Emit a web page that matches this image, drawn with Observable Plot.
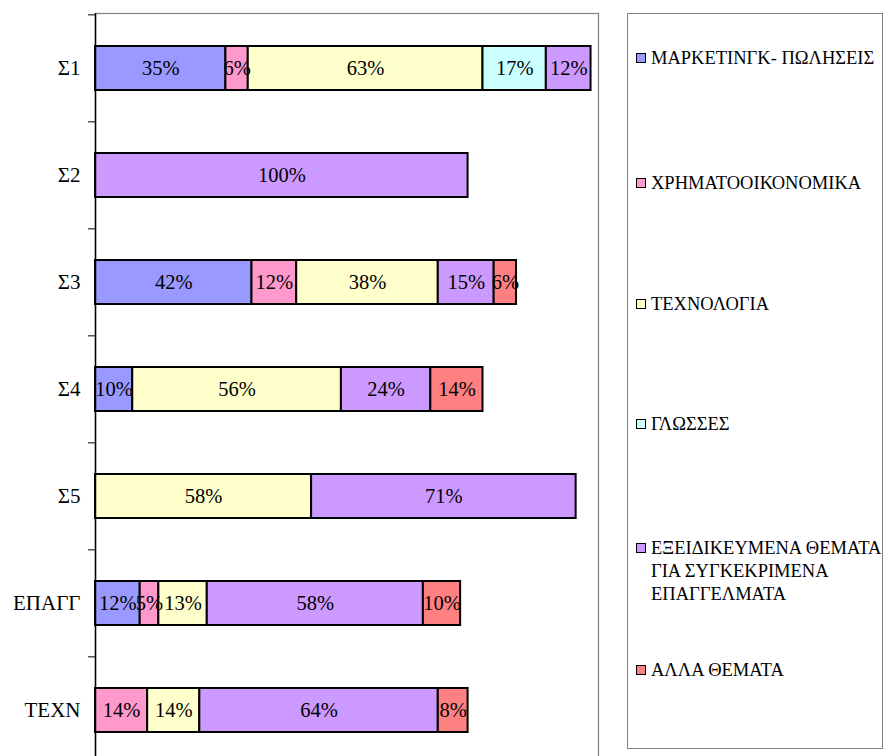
<!DOCTYPE html>
<html>
<head>
<meta charset="utf-8">
<script src="https://cdn.jsdelivr.net/npm/d3@7"></script>
<script src="https://cdn.jsdelivr.net/npm/@observablehq/plot@0.6"></script>
<style>
  html, body { margin: 0; padding: 0; background: #fff; overflow: hidden; font-family: 'Liberation Serif', serif; }
  #wrap { position: relative; width: 885px; height: 756px; font-family: 'Liberation Serif', serif; }
  #chart { position: absolute; left: 0; top: 0; }
  #chart svg, #chart svg text { font-family: 'Liberation Serif', serif !important; }
  #legend { position: absolute; left: 627px; top: 13px; width: 254px; height: 734px; border: 1px solid #808080; box-sizing: content-box; }
  .item { position: absolute; left: 8px; font-family: 'Liberation Serif', serif; font-size: 18.5px; line-height: 23px; color: #000; }
  .sw { position: absolute; left: 0; top: 6px; width: 8px; height: 8px; border: 1.5px solid #000; }
  .lab { margin-left: 15px; white-space: pre; }
</style>
</head>
<body>
<div id="wrap">
  <div id="chart"></div>
  <div id="legend"></div>
</div>
<script>
// Categories (rows, top to bottom)
const categories = ["Σ1", "Σ2", "Σ3", "Σ4", "Σ5", "ΕΠΑΓΓ", "ΤΕΧΝ"];

// Series names (stack order, left to right)
const seriesNames = [
  "ΜΑΡΚΕΤΙΝΓΚ- ΠΩΛΗΣΕΙΣ",
  "ΧΡΗΜΑΤΟΟΙΚΟΝΟΜΙΚΑ",
  "ΤΕΧΝΟΛΟΓΙΑ",
  "ΓΛΩΣΣΕΣ",
  "ΕΞΕΙΔΙΚΕΥΜΕΝΑ ΘΕΜΑΤΑ ΓΙΑ ΣΥΓΚΕΚΡΙΜΕΝΑ ΕΠΑΓΓΕΛΜΑΤΑ",
  "ΑΛΛΑ ΘΕΜΑΤΑ"
];
const legendLines = [
  "ΜΑΡΚΕΤΙΝΓΚ- ΠΩΛΗΣΕΙΣ",
  "ΧΡΗΜΑΤΟΟΙΚΟΝΟΜΙΚΑ",
  "ΤΕΧΝΟΛΟΓΙΑ",
  "ΓΛΩΣΣΕΣ",
  "ΕΞΕΙΔΙΚΕΥΜΕΝΑ ΘΕΜΑΤΑ\nΓΙΑ ΣΥΓΚΕΚΡΙΜΕΝΑ\nΕΠΑΓΓΕΛΜΑΤΑ",
  "ΑΛΛΑ ΘΕΜΑΤΑ"
];

// Values (%) per series, aligned with categories; 0 = not present
const marketing   = [35, 0, 42, 10, 0, 12, 0];
const finance     = [6, 0, 12, 0, 0, 5, 14];
const technology  = [63, 0, 38, 56, 58, 13, 14];
const languages   = [17, 0, 0, 0, 0, 0, 0];
const specialized = [12, 100, 15, 24, 71, 58, 64];
const otherTopics = [0, 0, 6, 14, 0, 10, 8];

const seriesColors = ["#9999FF", "#FF99CC", "#FFFFCC", "#CCFFFF", "#CC99FF", "#FF8080"];

// Layout (not data)
const legendTops = [33, 158, 279, 399, 523, 645];

const seriesValues = [marketing, finance, technology, languages, specialized, otherTopics];
const rows = [];
categories.forEach((cat, i) => {
  seriesNames.forEach((s, j) => {
    const v = seriesValues[j][i];
    if (v > 0) rows.push({cat, series: s, value: v});
  });
});

const step = (764 - 13) / categories.length;
const serif = "'Liberation Serif', serif";

const chart = Plot.plot({
  width: 600,
  height: 770,
  marginLeft: 95,
  marginRight: 2,
  marginTop: 13,
  marginBottom: 6,
  style: {fontFamily: serif, background: "#fff"},
  x: {domain: [0, 135], axis: null},
  y: {domain: categories, paddingInner: 0.59, paddingOuter: 0.295, label: null},
  color: {domain: seriesNames, range: seriesColors},
  marks: [
    Plot.frame({stroke: "#808080", strokeWidth: 1.2}),
    Plot.barX(rows, Plot.stackX({
      x: "value", y: "cat", z: "series", fill: "series",
      stroke: "#000", strokeWidth: 2, inset: 0
    })),
    Plot.text(rows, Plot.stackX({
      x: "value", y: "cat", z: "series",
      text: d => d.value + "%", fill: "#000", fontSize: 20.5, fontFamily: serif
    })),
    Plot.ruleX([0], {stroke: "#000", strokeWidth: 1.5}),
    Plot.axisY({tickSize: 7, text: null, dy: -step / 2, stroke: "#000"}),
    Plot.axisY({tickSize: 0, tickPadding: 15, fontSize: 21, fontFamily: serif, fill: "#000", label: null})
  ]
});
document.getElementById("chart").appendChild(chart);

const legend = document.getElementById("legend");
legendLines.forEach((name, i) => {
  const it = document.createElement("div");
  it.className = "item";
  it.style.top = legendTops[i] + "px";
  const sw = document.createElement("div");
  sw.className = "sw";
  sw.style.background = seriesColors[i];
  const lab = document.createElement("div");
  lab.className = "lab";
  lab.textContent = name;
  it.appendChild(sw);
  it.appendChild(lab);
  legend.appendChild(it);
});
</script>
</body>
</html>
